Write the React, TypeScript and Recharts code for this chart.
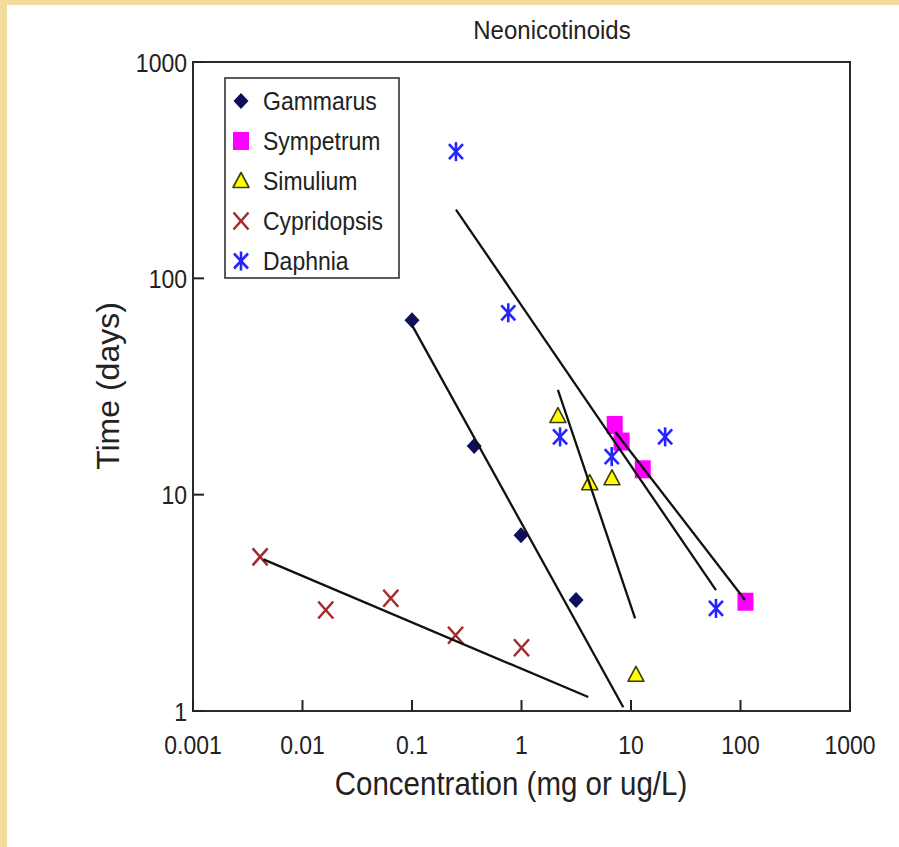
import React from 'react';
import { ScatterChart, Scatter, XAxis, YAxis, ReferenceArea, Legend } from 'recharts';

const FONT = '"Liberation Sans", Arial, Helvetica, sans-serif';
const INK = '#222';

// axis ticks
const xTicks = [0.001, 0.01, 0.1, 1, 10, 100, 1000];
const yTicks = [1, 10, 100, 1000];

// observed points (concentration, days)
const gammarus = [
  { x: 0.1, y: 64 },
  { x: 0.37, y: 16.8 },
  { x: 0.99, y: 6.5 },
  { x: 3.15, y: 3.26 },
];
const sympetrum = [
  { x: 7.1, y: 21 },
  { x: 8.2, y: 17.6 },
  { x: 12.8, y: 13.1 },
  { x: 111, y: 3.2 },
];
const simulium = [
  { x: 2.15, y: 23.1 },
  { x: 4.2, y: 11.3 },
  { x: 6.7, y: 11.9 },
  { x: 11.1, y: 1.47 },
];
const cypridopsis = [
  { x: 0.0041, y: 5.16 },
  { x: 0.0163, y: 2.93 },
  { x: 0.064, y: 3.32 },
  { x: 0.25, y: 2.24 },
  { x: 1.0, y: 1.96 },
];
const daphnia = [
  { x: 0.252, y: 385 },
  { x: 0.757, y: 69.3 },
  { x: 2.25, y: 18.5 },
  { x: 6.67, y: 15.0 },
  { x: 20.5, y: 18.5 },
  { x: 59.7, y: 2.98 },
];

// fitted regression lines (end points)
const cypridopsisFit = [
  { x: 0.0044, y: 5.02 },
  { x: 4.07, y: 1.16 },
];
const gammarusFit = [
  { x: 0.1, y: 60.8 },
  { x: 8.5, y: 1.04 },
];
const simuliumFit = [
  { x: 2.15, y: 30.5 },
  { x: 10.9, y: 2.68 },
];
const daphniaFit = [
  { x: 0.252, y: 208 },
  { x: 59.7, y: 3.62 },
];
const sympetrumFit = [
  { x: 7.2, y: 19.5 },
  { x: 110, y: 3.26 },
];

type Kind = 'diamond' | 'square' | 'triangle' | 'cross' | 'star';

const legendItems: { name: string; kind: Kind }[] = [
  { name: 'Gammarus', kind: 'diamond' },
  { name: 'Sympetrum', kind: 'square' },
  { name: 'Simulium', kind: 'triangle' },
  { name: 'Cypridopsis', kind: 'cross' },
  { name: 'Daphnia', kind: 'star' },
];

const Marker = ({ kind, cx, cy }: { kind: Kind; cx: number; cy: number }) => {
  switch (kind) {
    case 'diamond':
      return (
        <path
          d={`M${cx},${cy - 8} L${cx + 7.5},${cy} L${cx},${cy + 8} L${cx - 7.5},${cy} Z`}
          fill="#0e0e5a"
        />
      );
    case 'square':
      return <rect x={cx - 8} y={cy - 9} width={16} height={18} fill="#ff00ff" />;
    case 'triangle':
      return (
        <path
          d={`M${cx},${cy - 8.5} L${cx + 8},${cy + 6.5} L${cx - 8},${cy + 6.5} Z`}
          fill="#ffff00"
          stroke="#3c3c10"
          strokeWidth={1.6}
          strokeLinejoin="round"
        />
      );
    case 'cross':
      return (
        <g stroke="#a42a2a" strokeWidth={2.5}>
          <line x1={cx - 7.5} y1={cy - 8.5} x2={cx + 7.5} y2={cy + 8.5} />
          <line x1={cx - 7.5} y1={cy + 8.5} x2={cx + 7.5} y2={cy - 8.5} />
        </g>
      );
    default:
      return (
        <g stroke="#2424ff" strokeWidth={2.6}>
          <line x1={cx - 7} y1={cy - 7.5} x2={cx + 7} y2={cy + 7.5} />
          <line x1={cx - 7} y1={cy + 7.5} x2={cx + 7} y2={cy - 7.5} />
          <line x1={cx} y1={cy - 9.5} x2={cx} y2={cy + 9.5} />
        </g>
      );
  }
};

const shapeFor = (kind: Kind) => (props: any) => <Marker kind={kind} cx={props.cx} cy={props.cy} />;

const XTick = (props: any) => {
  const { x, y, payload } = props;
  return (
    <g>
      <line x1={x} y1={y} x2={x} y2={y - 11} stroke={INK} strokeWidth={2} />
      <text
        transform={`translate(${x},${y + 43}) scale(1,1.15)`}
        textAnchor="middle"
        fontFamily={FONT}
        fontSize={23}
        fill={INK}
      >
        {String(payload.value)}
      </text>
    </g>
  );
};

const YTick = (props: any) => {
  const { x, y, payload } = props;
  return (
    <g>
      <line x1={x} y1={y} x2={x + 11} y2={y} stroke={INK} strokeWidth={2} />
      <text
        transform={`translate(${x - 6},${y + 9.5}) scale(1,1.15)`}
        textAnchor="end"
        fontFamily={FONT}
        fontSize={23}
        fill={INK}
      >
        {String(payload.value)}
      </text>
    </g>
  );
};

const renderLegend = () => (
  <svg width={176} height={202} style={{ display: 'block' }}>
    <rect x={1} y={1} width={174} height={200} fill="#fff" stroke="#333" strokeWidth={1.6} />
    {legendItems.map((it, i) => {
      const cy = 24 + i * 40;
      return (
        <g key={it.name}>
          <Marker kind={it.kind} cx={17} cy={cy} />
          <text
            transform={`translate(39,${cy + 9}) scale(1,1.15)`}
            fontFamily={FONT}
            fontSize={23}
            fill={INK}
          >
            {it.name}
          </text>
        </g>
      );
    })}
  </svg>
);

export default function App() {
  return (
    <div
      style={{
        position: 'absolute',
        left: 0,
        top: 0,
        width: 899,
        height: 847,
        background: '#f3dc9c',
        overflow: 'hidden',
        fontFamily: FONT,
      }}
    >
      <div style={{ position: 'absolute', left: 7, top: 5, right: 0, bottom: 0, background: '#fff' }} />

      <div style={{ position: 'absolute', left: 0, top: 0 }}>
        <ScatterChart width={899} height={847} margin={{ top: 62, right: 49, bottom: 106, left: 133 }}>
          <XAxis
            dataKey="x"
            type="number"
            scale="log"
            domain={[0.001, 1000]}
            ticks={xTicks}
            interval={0}
            allowDataOverflow
            axisLine={false}
            tickLine={false}
            tickSize={0}
            tickMargin={0}
            height={30}
            tick={<XTick />}
          />
          <YAxis
            dataKey="y"
            type="number"
            scale="log"
            domain={[1, 1000]}
            ticks={yTicks}
            interval={0}
            allowDataOverflow
            axisLine={false}
            tickLine={false}
            tickSize={0}
            tickMargin={0}
            width={60}
            tick={<YTick />}
          />
          <ReferenceArea
            x1={0.001}
            x2={1000}
            y1={1}
            y2={1000}
            fill="none"
            fillOpacity={0}
            stroke="#2a2a2a"
            strokeWidth={2}
          />
          <Legend
            layout="vertical"
            align="center"
            verticalAlign="middle"
            content={renderLegend}
            wrapperStyle={{ left: 224, top: 77, width: 176, height: 202 }}
          />

          <Scatter name="Gammarus" data={gammarus} shape={shapeFor('diamond')} isAnimationActive={false} />
          <Scatter name="Sympetrum" data={sympetrum} shape={shapeFor('square')} isAnimationActive={false} />
          <Scatter name="Simulium" data={simulium} shape={shapeFor('triangle')} isAnimationActive={false} />
          <Scatter name="Cypridopsis" data={cypridopsis} shape={shapeFor('cross')} isAnimationActive={false} />
          <Scatter name="Daphnia" data={daphnia} shape={shapeFor('star')} isAnimationActive={false} />

          {[cypridopsisFit, gammarusFit, simuliumFit, daphniaFit, sympetrumFit].map((fit, i) => (
            <Scatter
              key={i}
              data={fit}
              line={{ stroke: '#111', strokeWidth: 2.3 }}
              shape={() => <g />}
              legendType="none"
              isAnimationActive={false}
            />
          ))}
        </ScatterChart>
      </div>

      <div
        style={{
          position: 'absolute',
          left: 552,
          top: 39,
          transform: 'translate(-50%, -84%) scaleY(1.07)',
          fontSize: 24,
          lineHeight: 1,
          color: INK,
          whiteSpace: 'nowrap',
        }}
      >
        Neonicotinoids
      </div>

      <div
        style={{
          position: 'absolute',
          left: 511,
          top: 783,
          transform: 'translate(-50%, -50%) scaleY(1.15)',
          fontSize: 29.5,
          lineHeight: 1,
          color: INK,
          whiteSpace: 'nowrap',
        }}
      >
        Concentration (mg or ug/L)
      </div>

      <div
        style={{
          position: 'absolute',
          left: 108,
          top: 386,
          transform: 'translate(-50%, -50%) rotate(-90deg)',
          fontSize: 32,
          lineHeight: 1,
          color: INK,
          whiteSpace: 'nowrap',
        }}
      >
        Time (days)
      </div>
    </div>
  );
}
